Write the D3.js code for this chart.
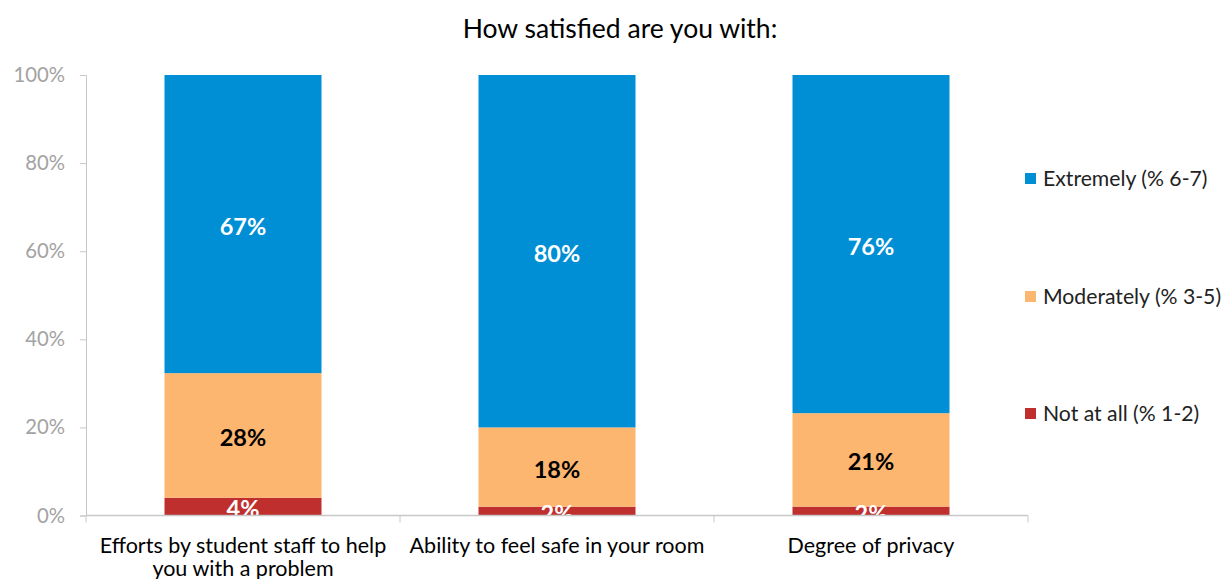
<!DOCTYPE html>
<html>
<head>
<meta charset="utf-8">
<script src="https://cdn.jsdelivr.net/npm/d3@7"></script>
<style>
  body { margin: 0; background: #fff; }
  svg { font-family: Lato, "Open Sans", sans-serif; }
</style>
</head>
<body>
<svg id="chart" width="1223" height="579"></svg>
<script>
// Categories and the three answer groups (percent as shown on the bars)
const categories = [
    ['Efforts by student staff to help', 'you with a problem'],
    ['Ability to feel safe in your room'],
    ['Degree of privacy']
];
const notAtAll   = [4, 2, 2];
const moderately = [28, 18, 21];
const extremely  = [67, 80, 76];

const seriesKeys   = ['notAtAll', 'moderately', 'extremely'];
const seriesNames  = ['Not at all (% 1-2)', 'Moderately (% 3-5)', 'Extremely (% 6-7)'];
const seriesColors = ['#bf2f2e', '#fdb66f', '#008fd5'];
const labelColors  = ['#fff', '#000', '#fff'];
const yTicks = [0, 0.2, 0.4, 0.6, 0.8, 1];

const rows = categories.map((c, i) => ({
    cat: i,
    notAtAll: notAtAll[i],
    moderately: moderately[i],
    extremely: extremely[i]
}));

const svg = d3.select('#chart');
const plotLeft = 86, plotRight = 1028, plotTop = 75, plotBottom = 515.5;

const x = d3.scaleBand()
    .domain(rows.map(d => d.cat))
    .range([plotLeft, plotRight])
    .paddingInner(0.5)
    .paddingOuter(0.25);

const y = d3.scaleLinear().domain([0, 1]).range([plotBottom, plotTop]);

// 100% stacked columns
const stacked = d3.stack()
    .keys(seriesKeys)
    .offset(d3.stackOffsetExpand)(rows);

// title
svg.append('text')
    .attr('x', 620).attr('y', 38)
    .attr('text-anchor', 'middle')
    .attr('font-size', 26.5)
    .attr('fill', '#000')
    .text('How satisfied are you with:');

// y axis
const yAxis = svg.append('g')
    .attr('transform', `translate(${plotLeft},0)`)
    .call(d3.axisLeft(y).tickValues(yTicks).tickFormat(d3.format('.0%')).tickSize(6).tickPadding(15));
yAxis.select('.domain').attr('stroke', '#c8c8c8');
yAxis.selectAll('.tick line').attr('stroke', '#c8c8c8');
yAxis.selectAll('.tick text')
    .attr('fill', '#a3a3a3')
    .attr('font-size', 20.3)
    .attr('font-family', 'Lato, sans-serif');

// bars
const groups = svg.append('g').selectAll('g')
    .data(stacked)
    .join('g')
    .attr('fill', (d, i) => seriesColors[i]);

groups.selectAll('rect')
    .data(d => d)
    .join('rect')
    .attr('x', d => x(d.data.cat))
    .attr('width', x.bandwidth())
    .attr('y', d => y(d[1]))
    .attr('height', d => y(d[0]) - y(d[1]));

// data labels
stacked.forEach((s, si) => {
    svg.append('g').selectAll('text')
        .data(s)
        .join('text')
        .attr('x', d => x(d.data.cat) + x.bandwidth() / 2)
        .attr('y', d => (y(d[0]) + y(d[1])) / 2)
        .attr('dy', '0.45em')
        .attr('text-anchor', 'middle')
        .attr('font-size', 23.5)
        .attr('font-weight', 'bold')
        .attr('fill', labelColors[si])
        .text(d => d.data[s.key] + '%');
});

// x axis (category boundaries as ticks)
const xg = svg.append('g');
xg.append('line')
    .attr('x1', plotLeft).attr('x2', plotRight)
    .attr('y1', plotBottom).attr('y2', plotBottom)
    .attr('stroke', '#c8c8c8').attr('stroke-width', 1.5);
const bounds = rows.map(d => x(d.cat) - x.step() * x.paddingInner() / 2).concat([plotRight]);
bounds[0] = plotLeft;
xg.selectAll('.xt')
    .data(bounds)
    .join('line')
    .attr('x1', d => d).attr('x2', d => d)
    .attr('y1', plotBottom).attr('y2', plotBottom + 7)
    .attr('stroke', '#c8c8c8');

xg.selectAll('.cat')
    .data(rows)
    .join('text')
    .attr('text-anchor', 'middle')
    .attr('font-size', 21.5)
    .attr('fill', '#000')
    .attr('x', d => x(d.cat) + x.bandwidth() / 2)
    .attr('y', 553)
    .each(function(d) {
        d3.select(this).selectAll('tspan')
            .data(categories[d.cat])
            .join('tspan')
            .attr('x', x(d.cat) + x.bandwidth() / 2)
            .attr('dy', (t, i) => i === 0 ? 0 : 23)
            .text(t => t);
    });

// legend, top entry is the top segment
const legendOrder = [2, 1, 0];
const legendY = [179, 297, 414];
const legend = svg.append('g').selectAll('g')
    .data(legendOrder)
    .join('g')
    .attr('transform', (d, i) => `translate(1025,${legendY[i]})`);
legend.append('rect')
    .attr('x', 0).attr('y', -6)
    .attr('width', 11).attr('height', 11)
    .attr('fill', d => seriesColors[d]);
legend.append('text')
    .attr('x', 18).attr('y', 0)
    .attr('dy', '0.35em')
    .attr('font-size', 21.2)
    .attr('fill', '#222')
    .text(d => seriesNames[d]);
</script>
</body>
</html>
